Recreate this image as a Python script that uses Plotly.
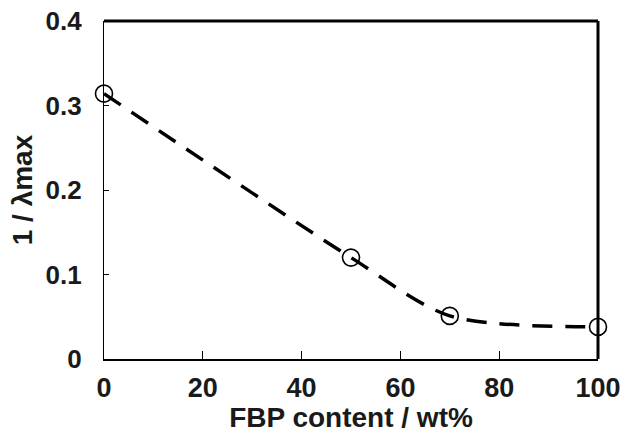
import plotly.graph_objects as go

fbp = [0, 50, 70, 100]
inv_lmax = [0.314, 0.120, 0.051, 0.038]
x_ticks = [0, 20, 40, 60, 80, 100]
x_labels = ["0", "20", "40", "60", "80", "100"]
y_ticks = [0, 0.1, 0.2, 0.3, 0.4]
y_labels = ["0", "0.1", "0.2", "0.3", "0.4"]

fig = go.Figure()
fig.add_trace(go.Scatter(
    x=fbp, y=inv_lmax, mode="lines",
    line=dict(color="black", width=3.5, dash="20px,13px", shape="spline", smoothing=0.8),
    showlegend=False, hoverinfo="skip"))
fig.add_trace(go.Scatter(
    x=fbp, y=inv_lmax, mode="markers",
    marker=dict(symbol="circle-open", size=17, color="black", line=dict(width=1.6)),
    showlegend=False, cliponaxis=False))

font = dict(family="Liberation Sans, Arial, sans-serif", size=28, color="#1a1a1a")
fig.update_layout(
    width=623, height=433,
    margin=dict(l=104, r=25, t=21, b=74),
    paper_bgcolor="white", plot_bgcolor="white",
    font=font,
    xaxis=dict(range=[0, 100], tickvals=x_ticks, ticktext=["<b>%s</b>" % t for t in x_labels],
               ticks="inside", ticklen=8, tickwidth=1,
               tickcolor="black", showgrid=False, zeroline=False, showline=True,
               linecolor="black", linewidth=2, automargin=False, ticklabeloverflow="allow",
               title=dict(text="<b>FBP content / wt%</b>", standoff=22, font=dict(size=28)),
               tickfont=dict(size=27), ticklabelstandoff=4),
    yaxis=dict(range=[0, 0.4], tickvals=y_ticks, ticktext=["<b>%s</b>" % t for t in y_labels],
               ticks="inside", ticklen=5, tickwidth=1, tickcolor="black",
               showgrid=False, zeroline=False, showline=True,
               linecolor="black", linewidth=1.2, automargin=False, ticklabeloverflow="allow",
               title=dict(text="<b>1 / λmax</b>", standoff=4, font=dict(size=28)),
               tickfont=dict(size=26), ticklabelstandoff=16),
)
fig.add_shape(type="line", xref="paper", yref="paper", x0=0, x1=1, y0=1, y1=1,
              line=dict(color="black", width=3))
fig.add_shape(type="line", xref="paper", yref="paper", x0=1, x1=1, y0=0, y1=1,
              line=dict(color="black", width=3))
fig.write_html("out.html", config={"displayModeBar": False},
               post_script="document.body.style.margin='0';document.body.style.overflow='hidden';")
